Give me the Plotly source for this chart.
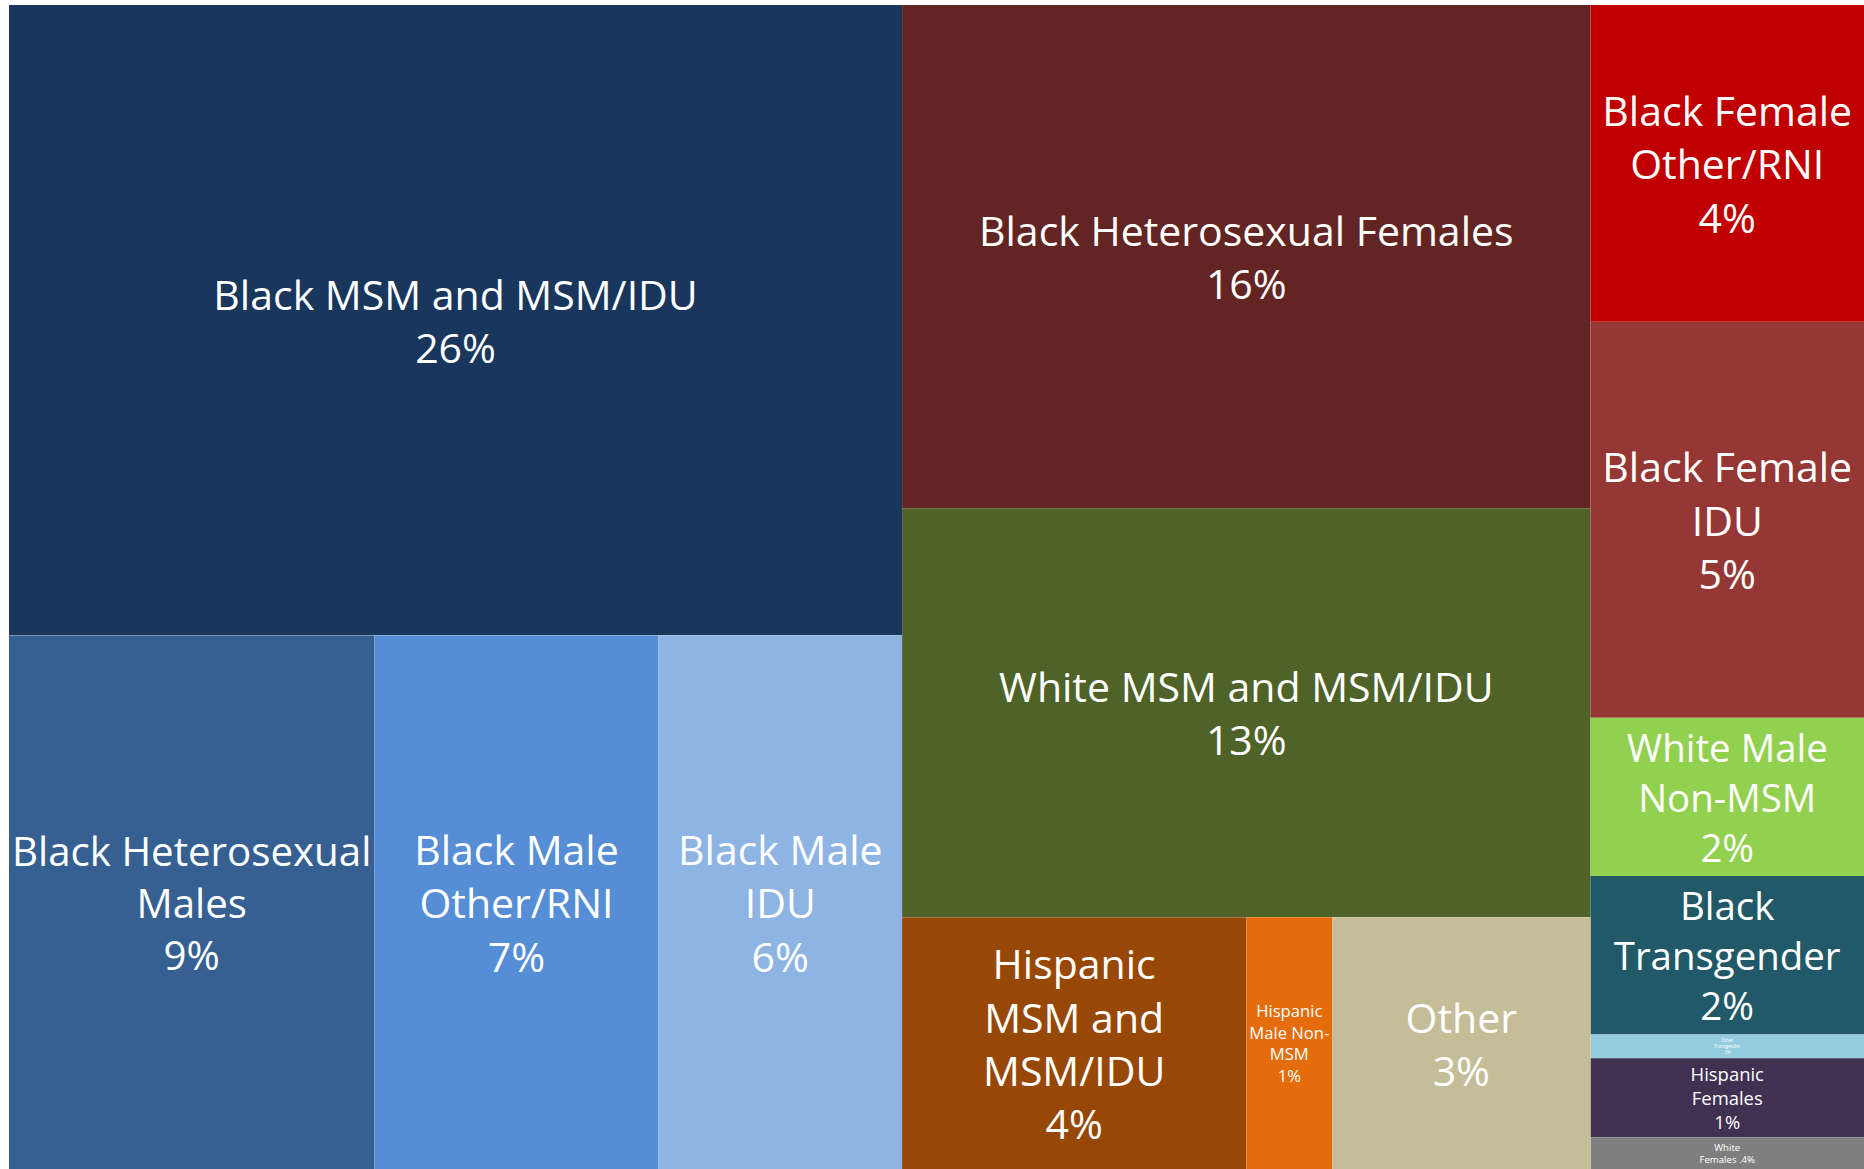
import plotly.graph_objects as go

# ---- data ----
# hierarchy: column groups -> rows -> cells
groups = ["Left", "LeftBottom", "Middle", "MidBottom", "Right"]
group_parents = ["root", "Left", "root", "Middle", "root"]

categories = [
    "Black MSM and MSM/IDU",
    "Black Heterosexual<br>Males",
    "Black Male<br>Other/RNI",
    "Black Male<br>IDU",
    "Black Heterosexual Females",
    "White MSM and MSM/IDU",
    "Hispanic<br>MSM and<br>MSM/IDU",
    "Hispanic<br>Male Non-<br>MSM",
    "Other",
    "Black Female<br>Other/RNI",
    "Black Female<br>IDU",
    "White Male<br>Non-MSM",
    "Black<br>Transgender",
    "Other<br>Transgender",
    "Hispanic<br>Females",
    "White<br>Females",
]
category_parents = [
    "Left", "LeftBottom", "LeftBottom", "LeftBottom",
    "Middle", "Middle", "MidBottom", "MidBottom", "MidBottom",
    "Right", "Right", "Right", "Right", "Right", "Right", "Right",
]
percent = [26, 9, 7, 6, 16, 13, 4, 1, 3, 4, 5, 2, 2, 0.3, 1, 0.4]
percent_labels = ["26%", "9%", "7%", "6%", "16%", "13%", "4%", "1%", "3%",
                  "4%", "5%", "2%", "2%", ".3%", "1%", ".4%"]
inline_pct = [False] * 15 + [True]

colors = ["#19365D", "#366092", "#558ED5", "#8EB4E3",
          "#632523", "#4F6228", "#974806", "#E46C0A", "#C4BD97",
          "#C00000", "#953735", "#92D050", "#215968", "#93CDDD",
          "#403152", "#7F7F7F"]

# drawing order: each parent followed by its children
sequence = [
    ("g", 0), ("c", 0), ("g", 1), ("c", 1), ("c", 2), ("c", 3),
    ("g", 2), ("c", 4), ("c", 5), ("g", 3), ("c", 6), ("c", 7), ("c", 8),
    ("g", 4), ("c", 9), ("c", 10), ("c", 11), ("c", 12), ("c", 13),
    ("c", 14), ("c", 15),
]

# ---- build trace ----
cat_ids = [f"c{i}" for i in range(len(categories))]
cat_texts = [
    (c + " " + p) if inl else (c + "<br>" + p)
    for c, p, inl in zip(categories, percent_labels, inline_pct)
]

ids, parents, values, texts, mcolors = ["root"], [""], [0], [""], ["#FFFFFF"]
for kind, k in sequence:
    if kind == "g":
        ids.append(groups[k]); parents.append(group_parents[k])
        values.append(0); texts.append(""); mcolors.append("#FFFFFF")
    else:
        ids.append(cat_ids[k]); parents.append(category_parents[k])
        values.append(percent[k]); texts.append(cat_texts[k])
        mcolors.append(colors[k])

fig = go.Figure(go.Treemap(
    ids=ids,
    labels=ids,
    parents=parents,
    values=values,
    branchvalues="remainder",
    text=texts,
    textinfo="text",
    textposition="middle center",
    textfont=dict(family="Open Sans", size=41, color="white"),
    marker=dict(colors=mcolors, line=dict(width=0),
                pad=dict(t=0, l=0, r=0, b=0)),
    tiling=dict(packing="slice-dice", pad=0),
    sort=False,
    pathbar=dict(visible=False),
    hoverinfo="skip",
))

fig.update_layout(
    width=1864, height=1169,
    margin=dict(l=9, r=0, t=5, b=0),
    paper_bgcolor="white",
    plot_bgcolor="white",
    showlegend=False,
)

fig.write_html(
    "out.html",
    config={"displayModeBar": False},
    post_script="document.body.style.margin='0';document.body.style.overflow='hidden';",
)
